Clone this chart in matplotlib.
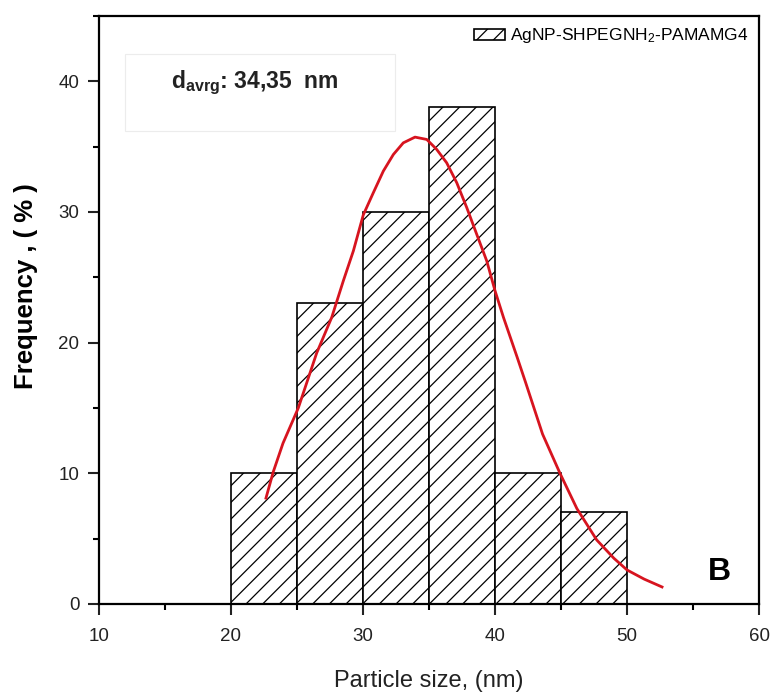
import matplotlib
matplotlib.use("Agg")
import matplotlib.pyplot as plt
from matplotlib.patches import Rectangle
from matplotlib.ticker import MultipleLocator

# histogram bins (nm) and frequencies (%)
bin_left = [20, 25, 30, 35, 40, 45]
bin_width = 5
freq = [10, 23, 30, 38, 10, 7]

# fitted distribution curve
fit_x = [22.65, 23.2, 23.94, 25.1, 26.49, 27.63, 28.51, 29.27, 30.02, 30.78,
         31.54, 32.30, 33.05, 33.94, 34.83, 35.58, 36.34, 37.10, 37.86, 38.61,
         39.37, 40.0, 40.64, 41.67, 42.3, 43.6, 44.92, 46.2, 47.7, 49.0,
         50.0, 51.3, 52.65]
fit_y = [8.1, 10.1, 12.3, 15.0, 19.2, 21.93, 24.73, 27.02, 29.77, 31.47,
         33.13, 34.40, 35.29, 35.73, 35.55, 34.79, 33.76, 32.24, 30.33, 28.30,
         26.26, 23.97, 21.93, 18.9, 17.0, 13.0, 10.0, 7.3, 4.9, 3.5,
         2.6, 1.9, 1.3]

series_label = "AgNP-SHPEGNH$_2$-PAMAMG4"
avg_text = "d$_{\\mathregular{avrg}}$: 34,35  nm"

plt.rcParams['font.family'] = ['Liberation Sans', 'DejaVu Sans']
plt.rcParams['hatch.linewidth'] = 0.9
plt.rcParams['mathtext.default'] = 'regular'

fig = plt.figure(figsize=(7.73, 6.95), dpi=100)
ax = fig.add_axes([0.128, 0.131, 0.854, 0.846])

ax.bar(bin_left, freq, width=bin_width, align='edge', facecolor='white',
       edgecolor='black', linewidth=1.2, hatch='//', label=series_label, zorder=2)
ax.plot(fit_x, fit_y, color='#d7141f', linewidth=2.0, zorder=3)

ax.set_xlim(10, 60)
ax.set_ylim(0, 45)
ax.xaxis.set_major_locator(MultipleLocator(10))
ax.xaxis.set_minor_locator(MultipleLocator(5))
ax.yaxis.set_major_locator(MultipleLocator(10))
ax.yaxis.set_minor_locator(MultipleLocator(5))
ax.tick_params(which='major', direction='out', length=8, width=1.5,
               labelsize=13.5, colors='#222222', top=False, right=False)
ax.tick_params(axis='x', which='major', pad=9)
ax.tick_params(axis='y', which='major', pad=6)
ax.tick_params(which='minor', direction='out', length=4, width=1.5,
               top=False, right=False)
for s in ax.spines.values():
    s.set_linewidth(1.6)

ax.set_xlabel("Particle size, (nm)", fontsize=17, color='#222222')
ax.xaxis.set_label_coords(0.5, -0.112)
ax.set_ylabel("Frequency , ( % )", fontsize=18.5, fontweight='bold')
ax.yaxis.set_label_coords(-0.092, 0.54)

ax.legend(loc='upper right', frameon=False, fontsize=12.5,
          handlelength=1.8, handleheight=0.6, handletextpad=0.3,
          borderaxespad=0.2)

# faint box around the average size note
ax.add_patch(Rectangle((0.039, 0.805), 0.409, 0.13, transform=ax.transAxes,
                       facecolor='white', edgecolor='#ececec', linewidth=0.8,
                       zorder=1))
ax.text(0.236, 0.887, avg_text, transform=ax.transAxes, fontsize=16.5,
        fontweight='bold', ha='center', va='center', color='#222222', zorder=4)

ax.text(0.94, 0.055, "B", transform=ax.transAxes, fontsize=23,
        fontweight='bold', ha='center', va='center')

fig.savefig("out.png", dpi=100)
